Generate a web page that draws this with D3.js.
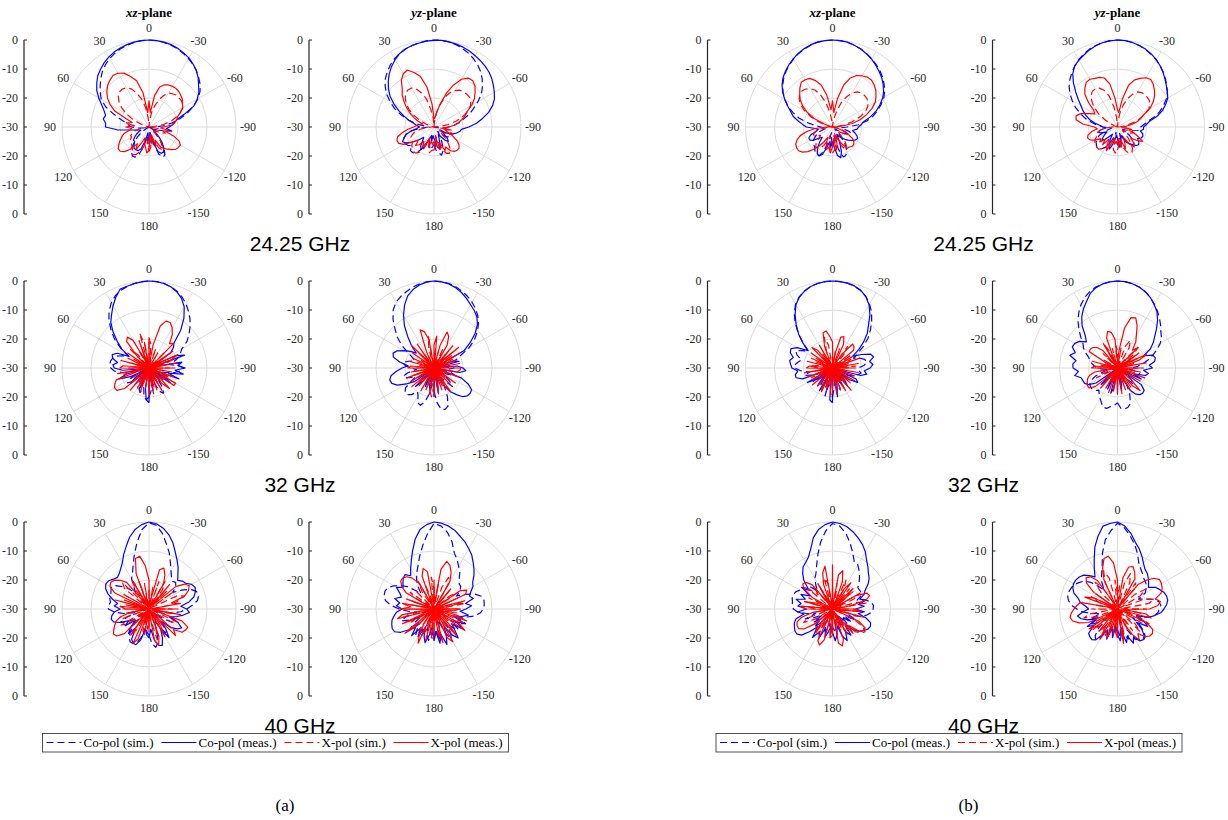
<!DOCTYPE html>
<html>
<head>
<meta charset="utf-8">
<script src="https://cdn.jsdelivr.net/npm/d3@7"></script>
<style>
  body { margin: 0; background: #fff; }
  text { font-family: "Liberation Serif", "Times New Roman", serif; }
</style>
</head>
<body>
<svg id="chart" width="1228" height="820"></svg>
<script>
// angle grid of the patterns: -180 .. 175 deg, 5 deg step
const thetas = d3.range(-180, 180, 5);
const angleTicks = [0, 30, 60, 90, 120, 150, 180, -150, -120, -90, -60, -30];
const radialTicks = [0, -10, -20, -30, -20, -10, 0];
const planes = ["xz", "yz"];
const freqs = ["24.25 GHz", "32 GHz", "40 GHz"];
const panels = ["(a)", "(b)"];
const seriesNames = ["Co-pol (sim.)", "Co-pol (meas.)", "X-pol (sim.)", "X-pol (meas.)"];

// values in dB; rows: -180..-95 | -90..-5 | 0..85 | 90..175
// ---- (a) 24.25 GHz ----
const a24xzCoSim = [
  -23,-25,-28,-24,-20,-18.5,-19,-21,-24,-27,-29,-30,-30,-30,-30,-30,-30,-29,
  -28,-25,-22,-19,-16,-13,-10.5,-8.5,-7,-5.8,-4.6,-3.6,-2.8,-2,-1.3,-0.8,-0.4,-0.1,
  0,-0.1,-0.4,-0.8,-1.3,-2,-2.8,-3.8,-5,-6.5,-8,-9.5,-11,-13.5,-17,-20,-22,-23,
  -24,-26,-28,-30,-30,-30,-29,-27,-25,-23,-21,-19.5,-18.5,-18.5,-20,-23,-27,-25];
const a24xzCoMeas = [
  -25,-27,-28,-25,-21,-20,-20,-21,-23,-25,-27,-28,-29,-28,-27,-25,-22,-24,
  -23,-22,-21,-20,-17,-13,-10.8,-9,-7.7,-6,-4.6,-3.5,-2.5,-1.8,-1.1,-0.6,-0.3,-0.1,
  0,-0.1,-0.3,-0.6,-1,-1.5,-2.2,-3,-4,-5,-6.5,-8,-10,-12,-13.5,-14.5,-14,-15,
  -15,-19,-24,-26,-27,-26,-25,-24,-23,-23,-22,-21,-21,-21,-22,-25,-28,-27];
const a24xzXSim = [
  -21.5,-23,-26,-28,-25,-22,-21,-22,-24,-26,-28,-29,-27,-25,-24,-25,-27,-29,
  -30,-28,-25,-22,-20,-18,-16.5,-15.8,-15.6,-15.6,-15.6,-16,-16.5,-18,-20,-22.5,-25,-28,
  -30,-27,-23,-20,-17.5,-15.5,-14.4,-14,-14.2,-15,-16.5,-18.5,-21,-24,-27,-29,-30,-30,
  -30,-29,-27,-25,-24,-23,-23,-22,-22,-21.5,-21,-20,-19,-19.5,-21,-23,-26,-24];
const a24xzXMeas = [
  -22,-27,-24,-26,-23,-25,-22,-21,-20,-19,-18,-17.7,-17.5,-18.5,-21,-24,-23,-26,
  -25,-22,-21,-20,-19.5,-18,-16.5,-16,-15,-14.5,-14,-13.8,-13.8,-14,-14.5,-15.7,-19,-25,
  -21,-25,-18,-13.5,-11.5,-9.5,-8.6,-8.3,-9,-9.8,-11,-12.5,-14.5,-17,-21.5,-24,-22,-25,
  -22,-24,-23,-21,-20,-19,-18,-17,-17,-18,-20,-23,-21,-24,-26,-24,-23,-21];

const a24yzCoSim = [
  -24,-22,-21,-20,-21,-23,-25,-27,-28,-27,-25,-24,-25,-27,-29,-30,-28,-26,
  -25,-23,-21,-19.5,-17,-15,-12.5,-10,-8.2,-6.5,-5,-3.8,-2.8,-1.9,-1.2,-0.6,-0.2,0,
  0,-0.2,-0.5,-0.9,-1.4,-2,-2.8,-3.8,-5,-6.3,-8,-10,-12.5,-15,-18,-21,-24,-27,
  -28,-25,-22,-20,-19,-18.5,-18.5,-19,-20,-18.5,-18.5,-19,-21,-24,-26,-24,-22,-23];
const a24yzCoMeas = [
  -26,-25,-23,-22,-24,-26,-27,-26,-24,-23,-24,-26,-27,-25,-23,-22,-21,-20.5,
  -18,-15.3,-13,-10.5,-8.5,-7,-6,-5,-4,-3.2,-2.6,-2.1,-1.6,-1.1,-0.7,-0.4,-0.2,0,
  -0.1,-0.3,-0.6,-0.9,-1.3,-2,-3.2,-4.5,-6,-7.7,-9.5,-11.5,-14,-16.5,-19,-21,-23,-24,
  -25,-24,-22,-20,-19,-18,-19,-21,-23,-25,-24,-22,-21,-23,-26,-27,-25,-27];
const a24yzXSim = [
  -22,-24,-27,-25,-22,-20,-19.5,-20,-22,-24,-27,-28,-26,-24,-23,-25,-27,-29,
  -30,-28,-25,-22,-19.5,-17,-15.5,-14.5,-14,-14,-14.2,-14.5,-15.5,-17,-19,-22,-25,-28,
  -30,-27,-24,-20,-17.5,-15.5,-14.5,-14.4,-14.8,-16,-17.5,-19.5,-22,-24.5,-27,-29,-30,-30,
  -29,-27,-25,-23,-22,-21,-21,-21,-20,-19.5,-19,-19,-20,-22,-25,-23,-21,-22];
const a24yzXMeas = [
  -25,-23,-26,-22,-24,-21,-22,-20,-19,-18.7,-18.7,-19.5,-21,-23,-25,-26,-24,-27,
  -25,-23,-21.5,-20,-18.5,-17.4,-15,-13,-11.5,-10,-9.2,-9.4,-11,-14,-17.7,-22,-25,-27,
  -27,-22,-16,-12,-10,-8.3,-8.8,-10.4,-13,-14.5,-16.5,-18.5,-20.5,-22.5,-24,-26,-25,-24,
  -23,-21,-19,-17,-16.4,-16.6,-18,-21,-23,-21,-22,-24,-22,-24,-26,-23,-25,-24];

// ---- (a) 32 GHz ----
const a32xzCoSim = [
  -20,-22,-25,-28,-24,-21,-20,-22,-26,-29,-27,-24,-22,-23,-26,-24,-21,-19,
  -18,-20,-23,-21,-19,-18,-17,-14,-12,-10,-8,-6.2,-4.5,-3,-1.8,-1,-0.4,-0.1,
  0,-0.1,-0.4,-0.9,-1.5,-2.5,-4,-6,-8.5,-11.5,-14.5,-18,-22,-20,-18,-17,-16.5,-16.5,
  -16.8,-18,-21,-25,-28,-25,-22,-21,-23,-27,-29,-27,-24,-22,-21,-23,-20,-19];
const a32xzCoMeas = [
  -18,-28,-22,-26,-29,-27,-25,-29,-24,-26,-29,-21,-24,-29,-19,-23,-18,-21,
  -17.5,-20,-18.5,-28,-17,-20,-29,-21,-19,-17.8,-13,-9,-5.7,-3.5,-2,-1,-0.4,-0.1,
  0,-0.2,-0.5,-0.8,-1,-3,-5.2,-7.5,-9.5,-12.5,-15.7,-18.5,-22,-18,-16.5,-17,-19,-17.5,
  -18,-21,-29,-22,-19,-23,-29,-24,-22,-29,-23,-27,-29,-22,-25,-29,-23,-19];
const a32xzXSim = [
  -22,-30,-28,-23,-30,-29,-24,-30,-26,-28,-23,-30,-27,-22,-30,-28,-25,-30,
  -23,-30,-29,-24,-21,-30,-28,-23,-30,-22,-30,-28,-24,-30,-23,-27,-30,-22,
  -19.5,-30,-22,-17.5,-30,-26,-23,-30,-24,-21,-30,-28,-24,-30,-29,-25,-30,-26,
  -23,-30,-24,-21,-30,-28,-23,-30,-22,-30,-28,-24,-30,-23,-30,-29,-24,-30];
const a32xzXMeas = [
  -20,-29,-21,-30,-22,-28,-21,-29,-23,-20,-27,-19.5,-19.4,-28,-21,-30,-22,-29,
  -21,-29,-20,-30,-22,-19,-28,-20,-29,-18,-19,-16,-14,-12.7,-12.8,-15,-22,-29,
  -20,-30,-21,-29,-20,-28,-19,-17,-18,-24,-29,-21,-30,-22,-28,-20,-29,-21,
  -20,-29,-19,-27,-18,-17,-16.3,-16.5,-19,-28,-20,-30,-22,-29,-21,-30,-23,-29];

const a32yzCoSim = [
  -22,-18,-15.5,-15.2,-16,-19,-23,-26,-24,-21,-23,-26,-28,-25,-22,-24,-27,-25,
  -23,-26,-28,-25,-22,-20,-16,-13,-10.5,-8.3,-6.5,-5,-3.8,-2.7,-1.8,-1,-0.4,-0.1,
  0,-0.2,-0.6,-1.2,-2,-2.8,-3.8,-5.5,-8,-11,-13.5,-16.5,-20,-22,-23,-21,-19,-20,
  -22,-24,-21,-19,-20,-23,-21,-18,-17,-17,-18,-20,-19,-16.8,-16.3,-18,-21,-25];
const a32yzCoMeas = [
  -20,-29,-21,-25,-29,-26,-23,-20,-18,-16,-15,-14.8,-15,-17,-20,-29,-21,-19,
  -20,-22,-29,-21,-23,-29,-18,-14.8,-11.5,-8.8,-7,-5.8,-4.8,-3.5,-2.3,-1.3,-0.6,-0.2,
  0,-0.3,-0.9,-2,-3.5,-6,-9,-12.2,-16,-19,-22,-20,-18,-16,-15,-15.5,-18,-21,
  -19,-17,-15,-14.2,-14.5,-16,-19,-22,-29,-21,-24,-29,-26,-23,-29,-24,-22,-29];
const a32yzXSim = [
  -24,-30,-22,-28,-30,-23,-29,-21,-30,-28,-25,-30,-26,-29,-24,-30,-23,-30,
  -28,-24,-30,-25,-30,-23,-29,-22,-30,-28,-24,-30,-26,-23,-30,-24,-30,-23,
  -26,-30,-19,-23,-30,-25,-30,-24,-30,-23,-29,-30,-25,-30,-24,-30,-25,-30,
  -24,-30,-23,-29,-22,-30,-21,-30,-27,-22,-30,-28,-24,-30,-23,-30,-22,-20];
const a32yzXMeas = [
  -20.2,-30,-21,-29,-22,-30,-23,-20,-29,-22,-30,-21,-28,-30,-21,-29,-22,-21,
  -20.8,-29,-21,-30,-22,-28,-20,-29,-19,-27,-20,-30,-21,-18,-16.8,-22,-29,-19,
  -22,-30,-20,-17,-16,-24,-30,-20,-28,-19,-29,-21,-30,-22,-29,-21,-30,-22,
  -21,-30,-22,-29,-20,-28,-21,-30,-20,-29,-22,-30,-21,-29,-22,-30,-21,-28];

// ---- (a) 40 GHz ----
const a40xzCoSim = [
  -21,-18,-16.6,-18,-22,-26,-23,-20,-22,-25,-28,-24,-21,-20,-23,-26,-22,-19,
  -17,-15,-13,-12.3,-12.5,-14,-17,-20,-18,-17,-17.5,-16.5,-14.8,-12.5,-9.5,-6.8,-3.5,-1,
  -0.3,-2.5,-6.5,-10.5,-14,-16.5,-18,-21,-23,-20,-18,-16,-15,-15.5,-16,-16,-16.5,-16,
  -16,-18,-21,-25,-22,-19,-21,-24,-27,-23,-20,-18,-17,-16.9,-17.5,-20,-24,-22];
const a40xzCoMeas = [
  -20,-23,-19,-17,-16.6,-19,-22,-18,-21,-24,-20,-18,-17,-19,-22,-20,-18,-16,
  -17,-19,-16,-14,-13,-12.4,-13,-14.5,-15,-16,-14.5,-12.5,-10.6,-8.5,-5.8,-3.5,-1.7,-0.5,
  0,-0.8,-2.2,-4.3,-7,-9.3,-11.6,-13,-14,-14.6,-14,-13,-12.8,-13.5,-15,-17,-19,-18,
  -20,-18,-17,-16.5,-17,-19,-22,-20,-24,-21,-19,-22,-18,-17,-16.9,-19,-23,-21];
const a40xzXSim = [
  -24,-30,-26,-19,-23,-30,-21,-29,-22,-30,-20,-28,-21,-19,-29,-26,-21,-30,
  -22,-29,-24,-20,-17,-19,-29,-20,-30,-21,-28,-22,-19,-29,-20,-30,-22,-30,
  -23,-30,-21,-28,-20,-30,-18,-22,-29,-17,-19,-29,-20,-30,-21,-29,-22,-30,
  -21,-30,-22,-29,-20,-30,-19,-21,-29,-20,-30,-19,-22,-29,-25,-22,-30,-23];
const a40xzXMeas = [
  -22,-29,-19,-17,-20,-29,-19,-23,-28,-17,-19,-16,-15.5,-15.2,-18,-28,-19,-29,
  -20,-29,-19,-22,-17,-15,-14,-15,-18,-28,-19,-29,-20,-17,-15,-16,-27,-29,
  -20,-15,-11.5,-12,-17,-29,-19,-28,-18,-16,-14.5,-13.9,-14.5,-17,-28,-18,-29,-20,
  -22,-29,-24,-20,-18,-17,-16,-15,-15.5,-18,-28,-19,-29,-17,-19,-29,-21,-29];

const a40yzCoSim = [
  -20,-23,-19,-22,-26,-21,-18,-20,-24,-21,-19,-23,-20,-18,-21,-19,-16,-14,
  -13,-12.6,-12.5,-13,-15,-18,-21,-19,-18,-17.7,-16.5,-14.5,-13,-11.2,-9.5,-6,-3.2,-1.3,
  -0.5,-4,-7.7,-11,-14,-16,-18,-20,-23,-21,-18,-16,-14,-12.5,-12,-12.2,-13,-15,
  -18,-21,-24,-20,-18,-21,-25,-22,-19,-23,-21,-19,-22,-20,-24,-21,-19,-22];
const a40yzCoMeas = [
  -19,-22,-18,-21,-17,-20,-23,-19,-17,-20,-22,-18,-21,-19,-23,-20,-18,-21,
  -19,-17,-19,-16,-17,-16,-14.5,-13.7,-12,-10.5,-9,-7.3,-6,-4.6,-3.4,-2,-1,-0.3,
  0,-0.8,-2.2,-5,-8.5,-11.5,-13.9,-16,-14.5,-15,-16,-17,-15,-17,-18,-16,-18,-17,
  -19,-17,-16,-15,-14.5,-14.1,-14.3,-16,-19,-21,-18,-22,-19,-23,-20,-18,-21,-24];
const a40yzXSim = [
  -22,-30,-20,-23,-30,-21,-29,-20,-23,-30,-21,-29,-22,-19,-29,-27,-22,-30,
  -21,-29,-19,-23,-30,-21,-29,-20,-23,-30,-22,-29,-20,-18,-22,-30,-21,-29,
  -23,-19,-30,-26,-21,-29,-19,-23,-30,-21,-29,-20,-23,-30,-22,-29,-21,-30,
  -20,-29,-21,-19,-30,-26,-21,-29,-19,-22,-30,-21,-29,-20,-22,-30,-21,-29];
const a40yzXMeas = [
  -20,-29,-22,-18,-29,-19,-17,-28,-18,-23,-29,-17,-20,-29,-18,-22,-29,-23,
  -21,-29,-24,-19,-29,-18,-17,-19,-28,-29,-21,-29,-19,-16,-14,-13,-16,-28,
  -20,-29,-17,-15.5,-18,-29,-20,-17,-15.5,-14.8,-15,-16.5,-19,-29,-20,-29,-19,-22,
  -18,-29,-19,-17,-28,-18,-24,-29,-17,-22,-29,-24,-20,-17,-29,-19,-29,-20];

// ---- (b) 24.25 GHz ----
const b24xzCoSim = [
  -23,-25,-27,-22,-19,-19.2,-20,-22,-25,-28,-29,-28,-26,-24,-23,-24,-26,-27,
  -25,-21,-18,-15.5,-13.5,-11.5,-9.5,-8,-6.8,-5.6,-4.6,-3.7,-2.9,-2.1,-1.4,-0.8,-0.3,-0.1,
  0,-0.1,-0.3,-0.8,-1.4,-2.1,-3,-4,-5,-6.2,-7.6,-9.2,-11,-13,-15.5,-18,-21,-24,
  -26,-27,-28,-27,-25,-24,-23,-22,-21.5,-21,-20.5,-19.5,-19.2,-19,-21,-25,-28,-26];
const b24xzCoMeas = [
  -25,-23,-20,-19,-21,-24,-27,-26,-25,-24,-23,-22,-21,-20.5,-21,-22,-23,-21.5,
  -21,-20,-19,-16.5,-14,-12,-10,-8.5,-7.2,-6,-5,-4,-3,-2.2,-1.4,-0.8,-0.3,-0.1,
  0,-0.1,-0.3,-0.7,-1.3,-2,-2.9,-3.8,-4.8,-5.9,-7.3,-9,-11,-13,-14.7,-16,-18,-19.7,
  -21,-24,-25,-24,-22,-21,-21,-22,-24,-25,-23,-21,-19.5,-19,-20,-23,-25,-23];
const b24xzXSim = [
  -21,-22,-25,-28,-26,-23,-21,-21.5,-23,-26,-28,-27,-25,-24,-25,-27,-29,-30,
  -30,-29,-26,-23,-20,-17.5,-16,-15,-14.6,-14.5,-14.6,-15.2,-16.5,-18.5,-21,-24,-27,-29,
  -30,-28,-25,-21.5,-18.5,-16,-14.7,-14,-13.7,-14,-15,-16.5,-19,-22,-25,-28,-30,-30,
  -30,-28,-26,-24,-23,-23,-24,-25,-24,-22,-21,-21,-21.5,-23,-25,-27,-24,-22];
const b24xzXMeas = [
  -23,-26,-22,-24,-27,-25,-23,-21,-21,-20.5,-20.5,-21,-22,-24,-26,-28,-29,-30,
  -30,-27,-23,-20,-17.5,-15,-13,-11.7,-10.5,-9.6,-9,-9,-9.6,-10.4,-12,-15,-20,-25,
  -21,-24,-19,-15,-13,-11.5,-11.2,-11.2,-12.5,-14,-15.5,-17.5,-20,-23,-27,-29,-30,-30,
  -28,-24,-21,-18.5,-17,-16,-15.7,-15.7,-16.5,-18,-20,-22,-24,-26,-24,-22,-23,-21];

const b24yzCoSim = [
  -24,-23,-24,-26,-28,-27,-25,-23,-22,-22,-23,-25,-27,-28,-27,-25,-23,-22,
  -22,-21,-19.5,-17,-14.5,-12.5,-10.5,-9,-7.8,-6.6,-5.4,-4.3,-3.3,-2.4,-1.6,-0.9,-0.4,-0.1,
  0,-0.1,-0.4,-0.9,-1.5,-2.3,-3.2,-4.3,-5.5,-6.8,-8.2,-10,-12,-14,-16.3,-18.5,-21,-23,
  -25,-27,-28,-27,-25,-23,-22,-21,-20.5,-20,-20,-21,-22,-24,-26,-28,-27,-25];
const b24yzCoMeas = [
  -26,-24,-23,-25,-27,-26,-24,-23,-22,-21,-20.5,-21,-22,-21,-20.7,-21,-22,-21,
  -21,-20,-18.8,-16,-13.5,-11.7,-10,-9,-8,-6.8,-5.5,-4.3,-3.2,-2.3,-1.5,-0.9,-0.4,-0.1,
  0,-0.2,-0.5,-1,-1.7,-2.6,-3.4,-4.3,-6,-8.5,-11.2,-13.5,-15.5,-16.9,-18.5,-20,-22,-24,
  -25,-26,-24,-23,-24,-26,-25,-24,-23,-24,-26,-27,-25,-23,-22,-24,-26,-27];
const b24yzXSim = [
  -22,-24,-26,-23,-21,-20,-20,-21,-23,-25,-27,-28,-27,-25,-24,-25,-27,-29,
  -30,-29,-27,-24.5,-22,-19.5,-17.5,-16.3,-15.7,-15.5,-15.4,-15.5,-16,-17.5,-19.5,-22,-25,-28,
  -30,-27,-23,-19,-16.5,-15.2,-14.8,-14.9,-15.8,-17.5,-19.5,-22,-25,-27,-29,-30,-30,-29,
  -28,-26,-24,-23,-22,-22,-21,-20.5,-20,-20,-20,-21,-22,-24,-26,-24,-22,-21];
const b24yzXMeas = [
  -24,-26,-23,-25,-22,-24,-26,-23,-21,-22,-24,-22,-20,-22,-24,-26,-25,-27,
  -28,-27,-25,-23,-21.5,-20,-17,-15,-13.3,-12,-10.8,-10,-10.4,-11.5,-12.7,-15,-20,-25,
  -24,-20,-15,-12.5,-11.8,-11.5,-11,-11.2,-12.5,-14.1,-17,-20,-21,-19,-16.5,-15.2,-15.5,-18,
  -22,-23,-21,-19.5,-19,-19.5,-21,-23,-22,-24,-22,-25,-23,-21,-24,-26,-24,-25];

// ---- (b) 32 GHz ----
const b32xzCoSim = [
  -20,-23,-27,-24,-22,-26,-28,-24,-26,-29,-25,-23,-26,-24,-22,-21,-20,-21,
  -21,-19,-18,-18.5,-20,-22,-20,-17,-14,-11.5,-9,-6.5,-4.5,-2.8,-1.6,-0.8,-0.3,-0.1,
  0,-0.1,-0.4,-0.9,-1.7,-2.9,-4.5,-7,-10,-13.5,-17,-20,-18,-16,-17,-19,-18,-17,
  -17,-19,-22,-20,-23,-26,-24,-22,-25,-28,-26,-23,-25,-27,-24,-22,-25,-22];
const b32xzCoMeas = [
  -18,-29,-20,-24,-29,-25,-23,-29,-22,-24,-29,-23,-20,-21,-29,-20,-18,-19,
  -17,-16,-17,-15.3,-16,-19,-22,-19,-16,-13,-10.7,-7.5,-4.8,-2.8,-1.5,-0.7,-0.3,-0.1,
  0,-0.1,-0.4,-0.9,-1.8,-3,-4.8,-7.5,-10.5,-13.5,-16.8,-19.5,-16,-14.2,-14.5,-16,-15,-15.5,
  -16,-18,-17,-17,-19,-29,-20,-23,-29,-25,-22,-29,-21,-25,-29,-20,-29,-19];
const b32xzXSim = [
  -26,-30,-27,-24,-30,-25,-22,-30,-29,-24,-30,-23,-26,-30,-24,-30,-25,-30,
  -25,-22,-30,-24,-30,-23,-29,-22,-30,-28,-24,-21,-30,-27,-23,-30,-24,-30,
  -23,-30,-22,-19,-24,-30,-28,-24,-30,-25,-30,-26,-23,-30,-24,-30,-25,-22,
  -25,-30,-24,-30,-25,-22,-30,-28,-24,-30,-23,-30,-29,-25,-23,-30,-24,-30];
const b32xzXMeas = [
  -21,-30,-20.8,-29,-22,-30,-21,-28,-20,-30,-22,-29,-21,-30,-22,-29,-21,-30,
  -22,-29,-21,-30,-20,-28,-22,-30,-20.5,-19.5,-19.2,-24,-29,-21,-18.5,-19,-25,-29,
  -21,-19,-17,-17.5,-22,-29,-21,-30,-22,-20,-29,-21,-30,-22,-29,-21,-30,-22,
  -21,-28,-20.2,-29,-21,-30,-22,-29,-21,-30,-22,-29,-23,-21,-30,-22,-29,-21];

const b32yzCoSim = [
  -18,-16,-15.6,-16,-17,-20,-24,-27,-25,-22,-24,-27,-29,-26,-23,-22,-24,-26,
  -25,-23,-21,-19,-17,-15,-13,-11.5,-10.5,-9,-7.5,-6,-4.6,-3.2,-2,-1.1,-0.5,-0.1,
  0,-0.2,-0.5,-1.1,-2,-3.2,-4.8,-6.7,-8.8,-11.2,-13.5,-15.5,-16.5,-18,-19.5,-20,-21,-22,
  -23,-25,-27,-25,-22,-20,-19,-18.6,-18.6,-19,-20,-19,-18,-16.8,-15.6,-15.6,-16.5,-17];
const b32yzCoMeas = [
  -21,-29,-22,-25,-29,-26,-21,-19,-18,-17.7,-18,-20,-29,-21,-24,-20,-19.2,-21,
  -18,-19,-17,-16.5,-17,-20,-17,-15,-13.3,-11,-8.5,-6.3,-4.7,-3.2,-2,-1.1,-0.5,-0.1,
  0,-0.2,-0.6,-1.3,-2.6,-4.7,-6.5,-8.5,-11,-14.3,-16,-14,-13,-12.8,-14.5,-13,-15.5,-14.5,
  -14.7,-16.5,-15,-17,-17.3,-17.5,-18.5,-21,-29,-22,-25,-29,-26,-22,-29,-21,-23,-29];
const b32yzXSim = [
  -24,-30,-23,-30,-29,-24,-30,-22,-28,-30,-24,-30,-23,-30,-28,-24,-30,-25,
  -23,-30,-28,-24,-30,-22,-30,-28,-23,-20,-27,-30,-22,-19.5,-22,-30,-23,-30,
  -24,-22,-30,-23,-30,-24,-20,-30,-28,-23,-30,-29,-24,-30,-25,-30,-24,-30,
  -23,-30,-24,-30,-25,-22,-30,-29,-24,-30,-23,-30,-28,-24,-30,-25,-22,-30];
const b32yzXMeas = [
  -20.8,-29,-21,-30,-22,-29,-21,-30,-22,-19,-24,-30,-21,-29,-20,-30,-22,-29,
  -21,-30,-20,-29,-22,-19,-27,-21,-30,-20,-22,-19,-17,-14,-11.6,-12,-16,-24,
  -28,-20,-17.5,-16.9,-19,-28,-21,-30,-22,-20,-19,-18.6,-18.8,-25,-30,-21,-29,-22,
  -21,-30,-22,-20,-19,-18.5,-18,-18,-20,-28,-21,-30,-22,-29,-21,-30,-22,-29];

// ---- (b) 40 GHz ----
const b40xzCoSim = [
  -24,-22.5,-23,-26,-22,-25,-21,-24,-27,-23,-26,-22,-25,-21,-24,-20,-18,-16.5,
  -16,-15.8,-16.5,-18,-21,-19,-18.6,-18.6,-18.6,-17,-15.5,-14,-12.5,-12.2,-9.5,-6.5,-3.5,-1.3,
  -0.5,-3,-6.5,-10.5,-14,-16.5,-17.8,-20,-22,-19,-20,-18,-17,-16,-15.6,-15.6,-16,-16,
  -16.5,-18,-21,-24,-20,-23,-26,-22,-25,-21,-24,-27,-23,-26,-22,-22.5,-25,-21];
const b40xzCoMeas = [
  -22,-19,-21,-24,-20,-18,-21,-19,-23,-20,-18,-17,-16,-15.6,-16,-18,-21,-19,
  -22,-19,-21,-18,-20,-18,-17,-15,-13.5,-12.5,-11,-9.5,-7.3,-5.5,-4,-2.5,-1.2,-0.4,
  0,-0.8,-2.2,-4.5,-8,-10.3,-11.5,-12.3,-14,-16,-19,-17,-21,-18,-20,-17,-19,-18,
  -21,-18,-20,-17,-16,-15.5,-15,-15,-16,-19,-22,-18,-21,-19,-23,-20,-22,-24];
const b40xzXSim = [
  -23,-30,-21,-24,-30,-23,-29,-21,-24,-19,-17,-16.3,-18,-22,-30,-21,-29,-20,
  -23,-30,-18,-21,-29,-22,-19,-30,-20,-29,-21,-30,-22,-19,-29,-26,-21,-30,
  -22,-30,-21,-19,-29,-26,-21,-30,-20,-23,-19,-29,-26,-21,-30,-20,-29,-21,
  -24,-30,-23,-29,-21,-19,-23,-30,-22,-29,-21,-30,-20,-23,-29,-22,-30,-21];
const b40xzXMeas = [
  -21,-29,-18,-16.8,-19,-29,-20,-28,-19,-22,-18,-17,-17,-20,-29,-19,-29,-20,
  -22,-29,-24,-18,-16.4,-17,-21,-29,-24,-20,-29,-19,-22,-29,-20,-16.3,-18,-29,
  -14.8,-29,-15,-17,-21,-29,-20,-28,-19,-17,-16.6,-18,-22,-29,-24,-20,-29,-19,
  -21,-29,-23,-19,-17,-16.5,-16.5,-18,-22,-29,-24,-20,-29,-18,-16.8,-19,-29,-20];

const b40yzCoSim = [
  -23,-20,-24,-21,-19,-22,-18,-17,-16,-16.5,-18,-21,-24,-20,-23,-19,-17,-16,
  -15.5,-15,-15.5,-17,-20,-22,-19,-18,-17,-16.5,-16,-15,-14,-12.6,-9.8,-7,-4.5,-2,
  -0.4,-3,-5.8,-10,-14.5,-17,-19,-22,-20,-17,-15,-14,-13,-12.5,-12.2,-12.2,-12.8,-14,
  -16,-18,-21,-24,-20,-23,-19,-22,-25,-21,-18,-17,-19,-22,-20,-24,-21,-25];
const b40yzCoMeas = [
  -21,-19,-22,-18,-20,-17,-19,-16.5,-16.2,-17,-19,-22,-18,-20,-23,-19,-17,-15,
  -14,-13,-12.4,-12.5,-13,-14,-15,-17,-16,-15,-14,-13.4,-12,-10,-8,-6.2,-3.5,-1.3,
  0,-0.4,-1,-4,-7.2,-11,-14,-16.5,-15,-13.5,-12.8,-12.5,-12.5,-13,-14,-16,-17,-19,
  -20,-18,-16,-17,-19,-22,-18,-20,-17,-16.5,-16.2,-17,-20,-22,-19,-23,-20,-24];
const b40yzXSim = [
  -22,-30,-20,-23,-29,-22,-26,-21,-30,-19,-22,-29,-20,-18,-22,-30,-21,-29,
  -20,-29,-19,-17,-20,-29,-21,-18,-22,-30,-21,-19,-29,-20,-17,-21,-30,-22,
  -24,-20,-29,-19,-16,-20,-29,-21,-18,-22,-30,-21,-29,-20,-23,-29,-22,-30,
  -21,-29,-20,-18,-22,-30,-21,-29,-19,-22,-30,-21,-29,-20,-23,-30,-21,-29];
const b40yzXMeas = [
  -20,-29,-18,-22,-29,-24,-20,-17,-19,-16.5,-15.5,-15.3,-16,-19,-29,-18,-20,-28,
  -19,-16,-15,-16.5,-14,-13,-12.5,-12.3,-13.5,-16,-19,-29,-18,-16,-14.4,-15,-19,-29,
  -20,-14,-11.5,-12,-15,-19,-29,-18,-15.5,-14.7,-16,-20,-29,-21,-18,-29,-17,-16,
  -15,-14,-13.4,-14,-16,-19,-29,-18,-21,-29,-20,-23,-18,-29,-19,-24,-29,-22];

// table of the 12 polar axes
const plots = [
  { panel: 0, row: 0, col: 0, series: [a24xzCoSim, a24xzCoMeas, a24xzXSim, a24xzXMeas] },
  { panel: 0, row: 0, col: 1, series: [a24yzCoSim, a24yzCoMeas, a24yzXSim, a24yzXMeas] },
  { panel: 0, row: 1, col: 0, series: [a32xzCoSim, a32xzCoMeas, a32xzXSim, a32xzXMeas] },
  { panel: 0, row: 1, col: 1, series: [a32yzCoSim, a32yzCoMeas, a32yzXSim, a32yzXMeas] },
  { panel: 0, row: 2, col: 0, series: [a40xzCoSim, a40xzCoMeas, a40xzXSim, a40xzXMeas] },
  { panel: 0, row: 2, col: 1, series: [a40yzCoSim, a40yzCoMeas, a40yzXSim, a40yzXMeas] },
  { panel: 1, row: 0, col: 0, series: [b24xzCoSim, b24xzCoMeas, b24xzXSim, b24xzXMeas] },
  { panel: 1, row: 0, col: 1, series: [b24yzCoSim, b24yzCoMeas, b24yzXSim, b24yzXMeas] },
  { panel: 1, row: 1, col: 0, series: [b32xzCoSim, b32xzCoMeas, b32xzXSim, b32xzXMeas] },
  { panel: 1, row: 1, col: 1, series: [b32yzCoSim, b32yzCoMeas, b32yzXSim, b32yzXMeas] },
  { panel: 1, row: 2, col: 0, series: [b40xzCoSim, b40xzCoMeas, b40xzXSim, b40xzXMeas] },
  { panel: 1, row: 2, col: 1, series: [b40yzCoSim, b40yzCoMeas, b40yzXSim, b40yzXMeas] }
];

plots.forEach(p => p.series.forEach((s, k) => {
  if (s.length !== thetas.length) console.error("bad length", p.panel, p.row, p.col, k, s.length);
}));

// layout
const R = 87;
const panelDx = 683.5;
const colX = [149, 434];
const rowY = [127, 368, 609];
const seriesColor = ["#0000ff", "#0000ff", "#ff0000", "#ff0000"];
const seriesDash = ["7,4", null, "7,4", null];
const legendOffsets = [4, 119, 242, 351];

const svg = d3.select("#chart");
const rScale = d3.scaleLinear().domain([-30, 0]).range([0, R]).clamp(true);

const line = d3.lineRadial()
  .angle(d => -d[0] * Math.PI / 180)
  .radius(d => rScale(d[1]));

function drawPolar(cx, cy, series) {
  const g = svg.append("g").attr("transform", "translate(" + cx + "," + cy + ")");

  // grid
  g.selectAll(".ring")
    .data([-20, -10, 0])
    .enter().append("circle")
    .attr("r", d => rScale(d))
    .attr("fill", "none")
    .attr("stroke", "#dcdcdc")
    .attr("stroke-width", 1);

  g.selectAll(".spoke")
    .data(angleTicks)
    .enter().append("line")
    .attr("x1", 0).attr("y1", 0)
    .attr("x2", d => -R * Math.sin(d * Math.PI / 180))
    .attr("y2", d => -R * Math.cos(d * Math.PI / 180))
    .attr("stroke", "#dcdcdc")
    .attr("stroke-width", 1);

  g.selectAll(".alabel")
    .data(angleTicks)
    .enter().append("text")
    .attr("x", d => -99 * Math.sin(d * Math.PI / 180))
    .attr("y", d => -99 * Math.cos(d * Math.PI / 180))
    .attr("text-anchor", "middle")
    .attr("dominant-baseline", "central")
    .attr("font-size", 12)
    .attr("fill", "#262626")
    .text(d => d);

  // radial axis drawn on the left
  const ax = -125;
  const tickY = (d, i) => i < 3 ? -rScale(d) : rScale(d);
  g.append("line")
    .attr("x1", ax).attr("x2", ax)
    .attr("y1", -R).attr("y2", R)
    .attr("stroke", "#262626").attr("stroke-width", 1.2);
  g.selectAll(".rtick")
    .data(radialTicks)
    .enter().append("line")
    .attr("x1", ax).attr("x2", ax + 3)
    .attr("y1", tickY).attr("y2", tickY)
    .attr("stroke", "#262626").attr("stroke-width", 1);
  g.selectAll(".rlabel")
    .data(radialTicks)
    .enter().append("text")
    .attr("x", ax - 6)
    .attr("y", tickY)
    .attr("text-anchor", "end")
    .attr("dominant-baseline", "central")
    .attr("font-size", 12)
    .attr("fill", "#262626")
    .text(d => d);

  // patterns
  series.forEach((vals, k) => {
    const pts = thetas.map((t, i) => [t, vals[i]]);
    pts.push([180, vals[0]]);
    g.append("path")
      .attr("d", line(pts))
      .attr("fill", "none")
      .attr("stroke", seriesColor[k])
      .attr("stroke-width", 1.2)
      .attr("stroke-linejoin", "round")
      .attr("stroke-dasharray", seriesDash[k]);
  });
}

plots.forEach(p => {
  drawPolar(colX[p.col] + p.panel * panelDx, rowY[p.row], p.series);
});

panels.forEach((label, pi) => {
  const dx = pi * panelDx;

  // plane titles
  planes.forEach((pl, ci) => {
    const t = svg.append("text")
      .attr("x", colX[ci] + dx)
      .attr("y", 17)
      .attr("text-anchor", "middle")
      .attr("font-size", 13)
      .attr("font-weight", "bold");
    t.append("tspan").attr("font-style", "italic").text(pl);
    t.append("tspan").text("-plane");
  });

  // frequency labels
  freqs.forEach((f, ri) => {
    svg.append("text")
      .attr("x", 300 + dx)
      .attr("y", rowY[ri] + 124)
      .attr("text-anchor", "middle")
      .style("font-family", "'Liberation Sans', Arial, sans-serif")
      .attr("font-size", 21)
      .text(f);
  });

  // legend
  const lx = 42.5 + dx - (pi ? 10 : 0);
  const lg = svg.append("g");
  lg.append("rect")
    .attr("x", lx).attr("y", 733.5)
    .attr("width", 466).attr("height", 18.5)
    .attr("fill", "#fff")
    .attr("stroke", "#262626").attr("stroke-width", 0.8);
  seriesNames.forEach((name, k) => {
    const x0 = lx + legendOffsets[k];
    lg.append("line")
      .attr("x1", x0).attr("x2", x0 + 35)
      .attr("y1", 742.5).attr("y2", 742.5)
      .attr("stroke", seriesColor[k])
      .attr("stroke-width", 1.2)
      .attr("stroke-dasharray", seriesDash[k]);
    lg.append("text")
      .attr("x", x0 + 37)
      .attr("y", 742.5)
      .attr("dominant-baseline", "central")
      .attr("font-size", 13)
      .text(name);
  });

  // sub-figure label
  svg.append("text")
    .attr("x", 285 + dx)
    .attr("y", 811)
    .attr("text-anchor", "middle")
    .attr("font-size", 17)
    .text(label);
});
</script>
</body>
</html>
